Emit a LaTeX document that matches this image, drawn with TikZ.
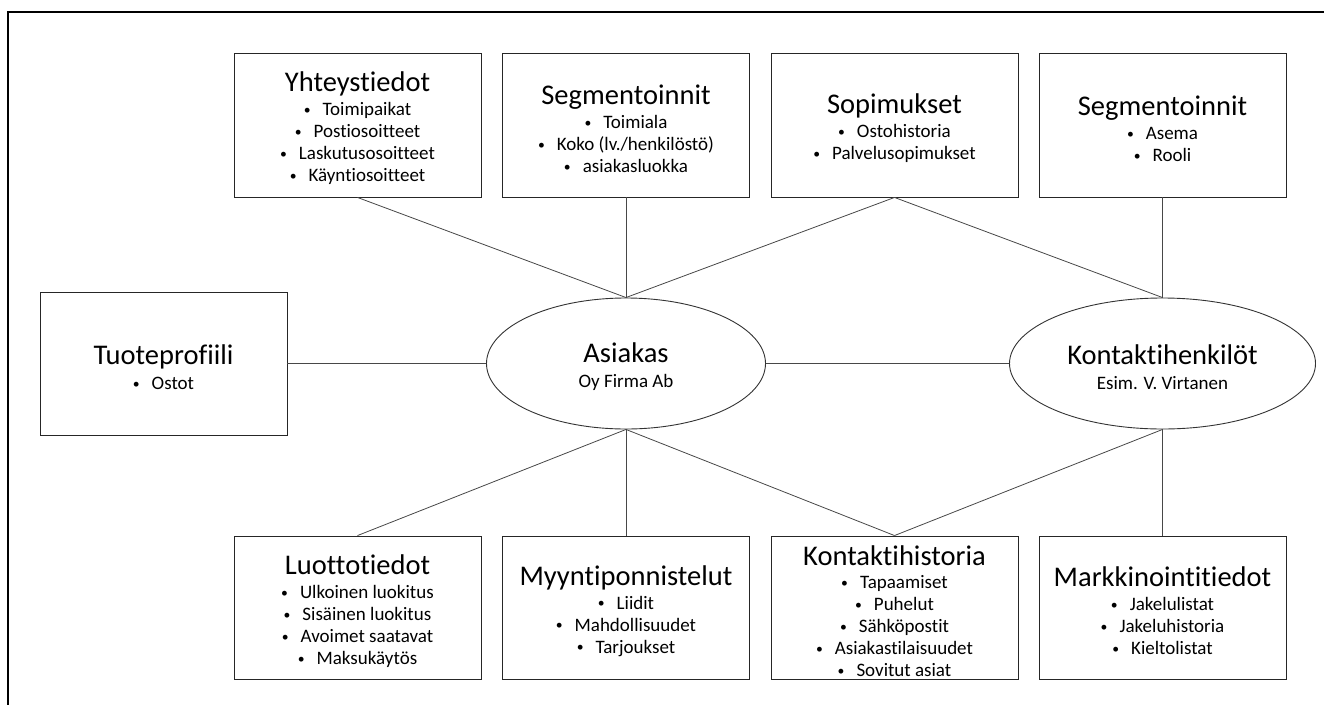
\documentclass[tikz,border=0pt]{standalone}
\usepackage{fontspec}
\setmainfont{Carlito}[Ligatures=NoCommon]
\usetikzlibrary{shapes.geometric}

% Title line (with a strut that lowers each text block a little)
\newcommand\ttl[1]{{\fontsize{28.5}{30}\selectfont\rule{0pt}{27pt}#1}}
% Bullet-list line
\newcommand\itm[1]{\raisebox{1.4pt}{\scalebox{0.72}{\textbullet}}\hspace{12pt}#1}

\tikzset{
  infobox/.style={draw=black!85, line width=0.9pt, minimum width=247pt,
    minimum height=144pt, inner sep=0pt, align=center,
    font=\fontsize{19}{22}\selectfont},
  entity/.style={ellipse, draw=black!80, line width=0.9pt, inner sep=0pt,
    minimum height=131pt, align=center, font=\fontsize{19}{22}\selectfont},
  conn/.style={draw=black!72, line width=0.8pt},
  frame/.style={draw=black, line width=1.6pt}
}

\begin{document}
\begin{tikzpicture}[x=1pt, y=-1pt]
\useasboundingbox (0,0) rectangle (1324,704);
\begin{scope}
\clip (0,0) rectangle (1324,704);
\draw[frame] (8,720) -- (8,12) -- (1340,12);
\end{scope}

% central entities
\node[entity, minimum width=279pt] (cust) at (626,363.5)
  {\ttl{Asiakas}\\[3pt]Oy Firma Ab};
\node[entity, minimum width=306pt] (cont) at (1162.5,363.5)
  {\ttl{Kontaktihenkilöt}\\[3pt]Esim. V. Virtanen};

% top row
\node[infobox] (yht) at (357.5,125)
  {\ttl{Yhteystiedot}\\[2pt]\itm{Toimipaikat}\\\itm{Postiosoitteet}\\
   \itm{Laskutusosoitteet}\\\itm{Käyntiosoitteet}};
\node[infobox] (seg) at (626,125)
  {\ttl{Segmentoinnit}\\[2pt]\itm{Toimiala}\\\itm{Koko (lv./henkilöstö)}\\
   \itm{asiakasluokka}};
\node[infobox] (sop) at (894.5,125)
  {\ttl{Sopimukset}\\[2pt]\itm{Ostohistoria}\\\itm{Palvelusopimukset}};
\node[infobox] (segk) at (1162.5,125)
  {\ttl{Segmentoinnit}\\[2pt]\itm{Asema}\\\itm{Rooli}};

% left
\node[infobox, minimum height=143pt] (tuo) at (163.5,363.5)
  {\ttl{Tuoteprofiili}\\[3pt]\itm{Ostot}};

% bottom row
\node[infobox, minimum height=143pt] (luo) at (357.5,607.5)
  {\ttl{Luottotiedot}\\[2pt]\itm{Ulkoinen luokitus}\\\itm{Sisäinen luokitus}\\
   \itm{Avoimet saatavat}\\\itm{Maksukäytös}};
\node[infobox, minimum height=143pt] (myy) at (626,607.5)
  {\ttl{Myyntiponnistelut}\\[2pt]\itm{Liidit}\\\itm{Mahdollisuudet}\\
   \itm{Tarjoukset}};
\node[infobox, minimum height=143pt] (kh) at (894.5,607.5)
  {\ttl{Kontaktihistoria}\\[1pt]\itm{Tapaamiset}\\\itm{Puhelut}\\
   \itm{Sähköpostit}\\\itm{Asiakastilaisuudet}\\\itm{Sovitut asiat}};
\node[infobox, minimum height=143pt] (mar) at (1162.5,607.5)
  {\ttl{Markkinointitiedot}\\[2pt]\itm{Jakelulistat}\\\itm{Jakeluhistoria}\\
   \itm{Kieltolistat}};

% connectors
\draw[conn] (yht.south) -- (cust.north);
\draw[conn] (seg.south) -- (cust.north);
\draw[conn] (sop.south) -- (cust.north);
\draw[conn] (sop.south) -- (cont.north);
\draw[conn] (segk.south) -- (cont.north);
\draw[conn] (tuo.east) -- (cust.west);
\draw[conn] (cust.east) -- (cont.west);
\draw[conn] (cust.south) -- (luo.north);
\draw[conn] (cust.south) -- (myy.north);
\draw[conn] (cust.south) -- (kh.north);
\draw[conn] (cont.south) -- (kh.north);
\draw[conn] (cont.south) -- (mar.north);
\end{tikzpicture}
\end{document}
